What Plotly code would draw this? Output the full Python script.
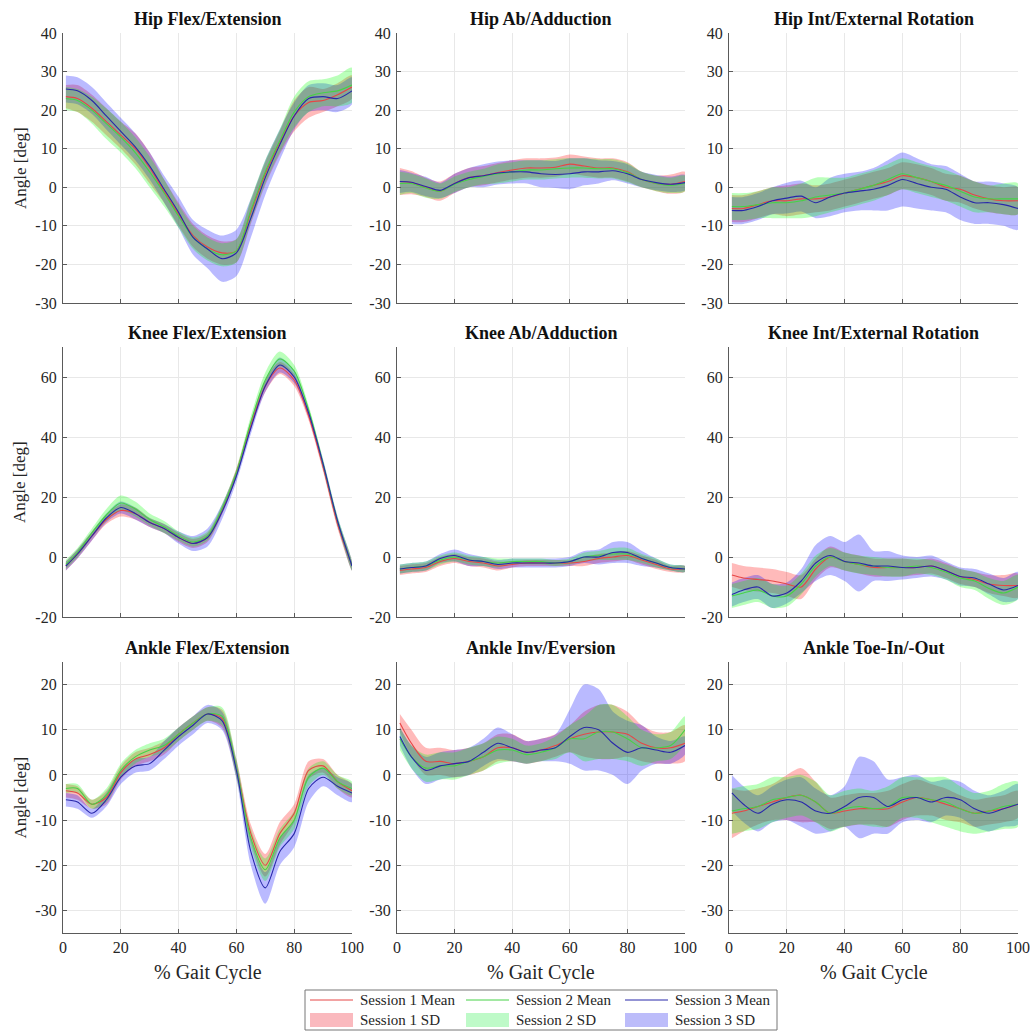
import plotly.graph_objects as go

W, H = 1030, 1032

# ---------------- data ----------------
X = [1, 5, 10, 15, 20, 25, 30, 35, 40, 45, 50, 55, 60, 65, 70, 75, 80, 85, 90, 95, 100]

TITLES = ["Hip Flex/Extension", "Hip Ab/Adduction", "Hip Int/External Rotation",
          "Knee Flex/Extension", "Knee Ab/Adduction", "Knee Int/External Rotation",
          "Ankle Flex/Extension", "Ankle Inv/Eversion", "Ankle Toe-In/-Out"]
SESSIONS = ["Session 1", "Session 2", "Session 3"]
X_TICKS = [0, 20, 40, 60, 80, 100]
ROW_YRANGE = [[-30, 40], [-20, 70], [-35, 25]]
ROW_YTICKS = [[-30, -20, -10, 0, 10, 20, 30, 40], [-20, 0, 20, 40, 60], [-30, -20, -10, 0, 10, 20]]

# Hip Flex/Extension
HF_M1 = [23.5, 23, 20.5, 17, 13.5, 10, 5, -1, -7, -12.5, -15.5, -17, -16.5, -6.5, 3.5, 11.5, 18.5, 22, 22.5, 24, 26]
HF_M2 = [23, 22.5, 20, 16.5, 13, 9, 4, -1.5, -7.5, -13, -16, -17.5, -16.5, -6, 4, 12, 19.5, 23.5, 24.5, 25, 26.5]
HF_M3 = [25.5, 25, 22.5, 18.5, 14.5, 10.5, 5.5, -0.5, -6.5, -13, -16, -18.5, -17, -8, 2.5, 11, 18.5, 23, 23.5, 23, 25]
HF_S1 = [3, 3.5, 3.5, 3.5, 3.5, 4, 4, 3, 3, 3, 3, 3, 3, 3, 3, 3, 4, 4, 3, 3, 3]
HF_S2 = [3, 3, 3.5, 4, 4, 4, 4, 3.5, 3, 3, 3, 3, 3, 3, 3, 3, 4, 4, 3.5, 4, 4.5]
HF_S3 = [3.5, 3.5, 3.5, 3.5, 3.5, 3.5, 3.5, 3.5, 4, 4.5, 5, 6, 6, 5, 4.5, 4, 3.5, 3.5, 3.5, 3.5, 3.5]

# Hip Ab/Adduction
HA_M1 = [1.5, 1.2, 0, -1, 1, 2.5, 3, 3.8, 4.5, 5, 5, 5.2, 6, 5.5, 5, 5, 4, 2, 1, 0.8, 1.5]
HA_M2 = [1, 1, -0.2, -1, 0.8, 2, 2.8, 3.5, 4, 4.5, 4.5, 4.8, 5, 5, 4.8, 4.8, 3.8, 2, 1, 0.5, 1]
HA_M3 = [1.5, 1.3, 0.2, -0.8, 1, 2.5, 3, 3.7, 4, 4, 3.5, 3.3, 3.5, 4, 4, 4.3, 3.5, 2, 1.2, 0.8, 1.2]
HA_S1 = [3.5, 3, 2.5, 2.5, 2.5, 2.5, 2.5, 2.5, 2.5, 2.5, 2.5, 2.5, 2.5, 2.5, 2.5, 2.5, 2.5, 2, 2, 2.5, 2.5]
HA_S2 = [3, 2.5, 2.5, 2, 2, 2, 2, 2.5, 2.5, 2.5, 2.5, 2.5, 2.5, 2.5, 2.5, 2.5, 2.5, 2, 2, 2, 2]
HA_S3 = [3, 2.5, 2.5, 2, 2.5, 2.5, 3, 3, 3, 3, 3.5, 3.5, 4, 3.5, 3, 2.5, 2.5, 2, 2, 2, 2]

# Hip Int/External Rotation
HR_M1 = [-5.5, -5.5, -4.5, -3.5, -3.5, -3, -3, -2.5, -1.5, -0.5, 0.5, 1.5, 3, 2.5, 1.5, 0, -0.5, -2, -3, -3.5, -3.5]
HR_M2 = [-5, -5, -4.5, -4, -4, -3.5, -2.5, -2, -1.5, -0.5, 0.5, 2, 3.5, 2.5, 1.5, 0.5, -1, -2.5, -3, -3, -3]
HR_M3 = [-6, -6, -5, -3.5, -2.8, -2.3, -4, -2.5, -1.5, -1, -0.5, 0.5, 2, 1, 0, -0.5, -2.5, -4, -4, -4.5, -5.5]
HR_S1 = [3.5, 3.5, 3.5, 3.5, 4, 4, 3.5, 3.5, 3.5, 3.5, 3.5, 3.5, 3.5, 3.5, 3.5, 3.5, 3.5, 3.5, 3.5, 3.5, 3.5]
HR_S2 = [3.5, 3.5, 3.5, 4, 4, 4.5, 5, 4.5, 4, 4, 4, 4, 4, 4, 4, 4, 4, 4, 3.5, 4, 4]
HR_S3 = [3.5, 3.5, 3.5, 3.5, 4, 4, 4, 5, 5, 5, 5.5, 6.5, 7, 6.5, 6, 6, 6, 5.5, 5.5, 5.5, 5.5]

# Knee Flex/Extension
KF_M1 = [-3, 1, 7, 12.5, 15.5, 14.5, 11.5, 9.5, 6.5, 4.5, 6.5, 15.5, 28, 44, 57, 63, 59, 47, 30, 11, -3]
KF_M2 = [-2.5, 1.5, 8, 14, 18, 16, 12.5, 10, 7, 5, 7, 16, 28, 45, 59, 66, 62, 49, 31, 12, -3]
KF_M3 = [-3, 1, 7, 13, 16.5, 14.5, 11.5, 9.5, 6.5, 4.5, 6.5, 15, 27, 43, 57, 64, 60, 48, 31, 12, -3]
KF_S1 = [1.5, 1.5, 1.5, 1.5, 2, 2, 1.5, 1.5, 1.5, 1.5, 1.5, 1.5, 1.5, 1.5, 2, 2, 2, 1.5, 1.5, 1.5, 1.5]
KF_S2 = [1.5, 1.5, 1.5, 2, 2.5, 2.5, 2, 2, 1.5, 1.5, 1.5, 1.5, 1.5, 2, 2.5, 2.5, 2, 1.5, 1.5, 1.5, 1.5]
KF_S3 = [1.5, 1.5, 1.5, 1.5, 2, 2, 1.5, 1.5, 2, 2.5, 3, 2.5, 2, 2, 2, 2.5, 2, 1.5, 1.5, 1.5, 1.5]

# Knee Ab/Adduction
KA_M1 = [-4.5, -4, -3.5, -1.5, -0.5, -1.5, -2, -3, -2.5, -2, -2, -2, -2, -1.5, -0.5, 0, 0.5, -1, -2.5, -4, -4]
KA_M2 = [-4, -3.5, -3, -1, 0, -1, -1.5, -2, -1.5, -1.5, -1.5, -2, -1.5, 0, 0.5, 1, 1, -0.5, -2, -3.5, -4]
KA_M3 = [-4, -3.5, -3, -0.5, 0.5, -1, -1.5, -2.5, -2, -2, -2, -2, -1.5, 0, 0, 1.5, 1.5, -0.5, -2, -3.5, -4]
KA_S1 = [1.5, 1.5, 1.5, 1.5, 1.5, 1.5, 1.5, 1.5, 1, 1, 1, 1, 1, 1.5, 1.5, 1.5, 1.5, 1.5, 1.5, 1, 1]
KA_S2 = [1.5, 1.5, 1.5, 1.5, 1.5, 1.5, 1.5, 1.5, 1, 1, 1, 1, 1, 1.5, 1.5, 2, 2, 1.5, 1.5, 1, 1]
KA_S3 = [1.5, 1.5, 1.5, 1.5, 2, 2, 1.5, 1.5, 1.5, 1.5, 1.5, 1.5, 1.5, 2, 2.5, 3.5, 3.5, 2.5, 1.5, 1, 1]

# Knee Int/External Rotation
KR_M1 = [-6, -7, -7.5, -8, -9, -10, -4, 0, -1.5, -2.5, -3.5, -3.5, -3.5, -3.5, -3, -4.5, -6.5, -7.5, -9, -9.5, -9.5]
KR_M2 = [-13, -12, -11, -13, -13, -9, -3, 0, -1.5, -2.5, -3, -3.5, -3.5, -3, -3.5, -5, -7, -8, -10.5, -12, -10]
KR_M3 = [-12.5, -11, -10, -13, -12, -8, -2, 0.5, -1.5, -2, -3, -3, -3.5, -3.5, -3, -4.5, -6.5, -7, -9, -11, -9.5]
KR_S1 = [4, 4, 4, 4, 4, 4, 3.5, 3.5, 3, 3, 3, 3, 3, 2.5, 2.5, 2.5, 2.5, 2.5, 3, 3.5, 4]
KR_S2 = [4, 4, 4, 4, 3.5, 3.5, 3.5, 3, 3, 3, 3, 3, 3, 2.5, 2.5, 2.5, 3, 3, 3.5, 4, 4]
KR_S3 = [4, 4, 4, 4, 3.5, 4, 6, 6.5, 6.5, 9.5, 5, 5, 4, 3.5, 3.5, 3, 3, 3, 3.5, 4, 4.5]

# Ankle Flex/Extension
AF_M1 = [-3.5, -4, -6.5, -5, 0.5, 3.5, 4.5, 6, 9, 11.5, 13.5, 12.5, 1.5, -13, -20, -13, -8.5, 1, 2, -1.5, -3.5]
AF_M2 = [-3, -3, -6.5, -4.5, 1, 4, 5.5, 6.5, 9, 11.5, 13.5, 13, 1.5, -14, -21, -14, -10, -0.5, 1.5, -1.5, -3]
AF_M3 = [-5.5, -6, -8.5, -5.5, -0.5, 2, 2.5, 5.5, 8.5, 11, 13.5, 12, 1, -17, -25, -17, -13, -3, -0.5, -2.5, -4]
AF_S1 = [1.5, 1.5, 1, 1.5, 1.5, 1.5, 1.5, 1.5, 1.5, 1.5, 1.5, 2, 2, 2, 2.5, 2.5, 2, 2, 1.5, 1.5, 1.5]
AF_S2 = [1, 1, 1, 1.5, 1.5, 1.5, 1.5, 1.5, 1.5, 1.5, 1.5, 2, 2, 2, 2.5, 2, 2, 2, 1.5, 1.5, 1.5]
AF_S3 = [1.5, 1.5, 1, 1.5, 1.5, 1.5, 1.5, 2, 2, 2, 2, 2, 2, 3, 3.5, 3, 3, 3, 2, 2, 2]

# Ankle Inv/Eversion
AI_M1 = [11.5, 7, 3, 3, 2.5, 3, 4, 6, 6, 5, 5.5, 6.5, 8, 9, 9.5, 9.5, 9, 7, 6, 6, 7]
AI_M2 = [8, 4, 1.5, 2, 2, 3, 4, 5.5, 5.5, 4.5, 5, 6, 8, 8, 9.5, 9.5, 8, 6, 6, 6.5, 10]
AI_M3 = [8.5, 4, 1, 2, 2.5, 3, 5, 7, 6, 5, 5.5, 6, 8.5, 10.5, 10, 7, 5, 6, 5.5, 5, 6.5]
AI_S1 = [2, 3, 3, 3, 3, 3, 3, 3, 3, 2.5, 2.5, 2.5, 3, 5, 6, 6, 5, 4, 3.5, 3.5, 4]
AI_S2 = [2.5, 2.5, 3, 3, 3, 3, 3, 3, 2.5, 2, 2, 2.5, 3, 5, 6, 6, 5, 4, 3, 3, 3]
AI_S3 = [2, 2.5, 3, 3, 3, 3, 3, 3.5, 3, 2.5, 2.5, 3, 6, 9.5, 9, 7, 7, 5, 3, 2.5, 2]

# Ankle Toe-In/-Out
AT_M1 = [-8.5, -8, -7, -6, -5, -4.5, -6, -8.5, -8, -7.5, -7.5, -7.5, -6, -5, -5.5, -6.5, -7.5, -8.5, -8, -7.5, -6.5]
AT_M2 = [-8, -7.5, -7, -5.5, -5, -4.5, -6, -8.5, -7.5, -7, -7.5, -7, -5, -5, -5.5, -6, -7.5, -8.5, -8, -7, -6.5]
AT_M3 = [-4, -6.5, -8.5, -6.5, -5.5, -6, -8, -8.5, -7, -5, -5, -7, -5.5, -5, -6, -5, -5.5, -7.5, -8.5, -7.5, -6.5]
AT_S1 = [5.5, 4.5, 4, 4, 5, 6, 4.5, 3.5, 3.5, 3.5, 3.5, 4, 4, 4, 3.5, 3.5, 3, 3, 3, 3, 3]
AT_S2 = [5, 5, 5, 5, 4.5, 4.5, 4.5, 4, 4, 4, 4, 4.5, 4.5, 4.5, 5, 5.5, 5, 4.5, 4.5, 5, 5]
AT_S3 = [4, 4, 4, 4, 4.5, 5.5, 5, 4, 4.5, 9, 8, 6, 5, 5, 4.5, 4, 4, 4, 4, 4, 4.5]

PANELS = [
    (HF_M1, HF_M2, HF_M3, HF_S1, HF_S2, HF_S3),
    (HA_M1, HA_M2, HA_M3, HA_S1, HA_S2, HA_S3),
    (HR_M1, HR_M2, HR_M3, HR_S1, HR_S2, HR_S3),
    (KF_M1, KF_M2, KF_M3, KF_S1, KF_S2, KF_S3),
    (KA_M1, KA_M2, KA_M3, KA_S1, KA_S2, KA_S3),
    (KR_M1, KR_M2, KR_M3, KR_S1, KR_S2, KR_S3),
    (AF_M1, AF_M2, AF_M3, AF_S1, AF_S2, AF_S3),
    (AI_M1, AI_M2, AI_M3, AI_S1, AI_S2, AI_S3),
    (AT_M1, AT_M2, AT_M3, AT_S1, AT_S2, AT_S3),
]

# ---------------- style ----------------
FONT = "Liberation Serif"
LINE_COLORS = ["rgb(230,70,70)", "rgb(70,210,70)", "rgb(40,40,170)"]
FILL_COLORS = ["rgba(255,0,0,0.27)", "rgba(0,255,0,0.27)", "rgba(0,0,255,0.27)"]
FILL_ORDER = [0, 2, 1]
LEGEND_FILL = ["rgb(250,185,190)", "rgb(190,250,200)", "rgb(188,188,250)"]

COL_PX = [(63, 352), (397, 685), (729, 1018)]
ROW_PX = [(33, 303), (347, 617), (662, 933)]


def px(x):
    return x / W


def py(y):
    return 1 - y / H


def tick_text(vals):
    return [str(v) for v in vals]


fig = go.Figure()
layout = dict(
    width=W, height=H, margin=dict(l=0, r=0, t=0, b=0),
    paper_bgcolor="white", plot_bgcolor="white", showlegend=False,
    font=dict(family=FONT, size=15, color="#262626"),
)
annotations = []
shapes = []

for k, (m1, m2, m3, s1, s2, s3) in enumerate(PANELS):
    r, c = divmod(k, 3)
    idx = "" if k == 0 else str(k + 1)
    xa, ya = "x" + idx, "y" + idx
    means, sds = [m1, m2, m3], [s1, s2, s3]
    for i in FILL_ORDER:
        up = [m + s for m, s in zip(means[i], sds[i])]
        lo = [m - s for m, s in zip(means[i], sds[i])]
        fig.add_trace(go.Scatter(
            x=X + X[::-1], y=up + lo[::-1], xaxis=xa, yaxis=ya,
            fill="toself", fillcolor=FILL_COLORS[i], mode="lines",
            line=dict(width=0, shape="spline", smoothing=0.8),
            name=SESSIONS[i] + " SD", hoverinfo="skip"))
    for i in range(3):
        fig.add_trace(go.Scatter(
            x=X, y=means[i], xaxis=xa, yaxis=ya, mode="lines",
            line=dict(color=LINE_COLORS[i], width=1.1, shape="spline", smoothing=0.8),
            name=SESSIONS[i] + " Mean"))

    x0, x1 = COL_PX[c]
    y0, y1 = ROW_PX[r]
    axis_common = dict(
        showline=True, linecolor="#5a5a5a", linewidth=1.2, mirror=False,
        showgrid=True, gridcolor="#e8e8e8", gridwidth=1, zeroline=False,
        ticks="inside", ticklen=4, tickcolor="#5a5a5a", automargin=False,
        tickfont=dict(family=FONT, size=16, color="#262626"),
    )
    layout["xaxis" + idx] = dict(
        axis_common, domain=[px(x0), px(x1)], range=[0, 100], anchor=ya,
        tickvals=X_TICKS, ticktext=tick_text(X_TICKS), showticklabels=(r == 2))
    layout["yaxis" + idx] = dict(
        axis_common, domain=[py(y1), py(y0)], range=ROW_YRANGE[r], anchor=xa,
        tickvals=ROW_YTICKS[r], ticktext=tick_text(ROW_YTICKS[r]), ticklabelstandoff=2)

    annotations.append(dict(
        text="<b>" + TITLES[k] + "</b>", xref="paper", yref="paper",
        x=px((x0 + x1) / 2), y=py(y0), yshift=2, xanchor="center", yanchor="bottom",
        showarrow=False, font=dict(family=FONT, size=18, color="#111111")))
    if c == 0:
        annotations.append(dict(
            text="Angle [deg]", xref="paper", yref="paper", textangle=-90,
            x=px(20), y=py((y0 + y1) / 2), xanchor="center", yanchor="middle",
            showarrow=False, font=dict(family=FONT, size=17, color="#262626")))
    if r == 2:
        annotations.append(dict(
            text="% Gait Cycle", xref="paper", yref="paper",
            x=px((x0 + x1) / 2), y=py(972), xanchor="center", yanchor="middle",
            showarrow=False, font=dict(family=FONT, size=20, color="#262626")))

# ---------------- legend (drawn box) ----------------
LX0, LX1, LY0, LY1 = 305, 777, 990, 1030
shapes.append(dict(type="rect", xref="paper", yref="paper",
                   x0=px(LX0), x1=px(LX1), y0=py(LY1), y1=py(LY0),
                   line=dict(color="#777777", width=1), fillcolor="white"))
COL_X = [310, 466, 625]
ROW_Y = [1000, 1020]
for i in range(3):
    sx = COL_X[i]
    shapes.append(dict(type="line", xref="paper", yref="paper",
                       x0=px(sx), x1=px(sx + 43), y0=py(ROW_Y[0]), y1=py(ROW_Y[0]),
                       line=dict(color=LINE_COLORS[i], width=1)))
    shapes.append(dict(type="rect", xref="paper", yref="paper",
                       x0=px(sx), x1=px(sx + 43), y0=py(ROW_Y[1] + 7), y1=py(ROW_Y[1] - 7),
                       line=dict(width=0), fillcolor=LEGEND_FILL[i]))
    for j, lab in enumerate([SESSIONS[i] + " Mean", SESSIONS[i] + " SD"]):
        annotations.append(dict(
            text=lab, xref="paper", yref="paper", x=px(sx + 48), y=py(ROW_Y[j]),
            xanchor="left", yanchor="middle", showarrow=False,
            font=dict(family=FONT, size=15, color="#262626")))

layout["annotations"] = annotations
layout["shapes"] = shapes
fig.update_layout(**layout)
fig.write_html(
    "out.html",
    config={"displayModeBar": False},
    post_script="document.body.style.margin='0';document.body.style.overflow='hidden';",
)
